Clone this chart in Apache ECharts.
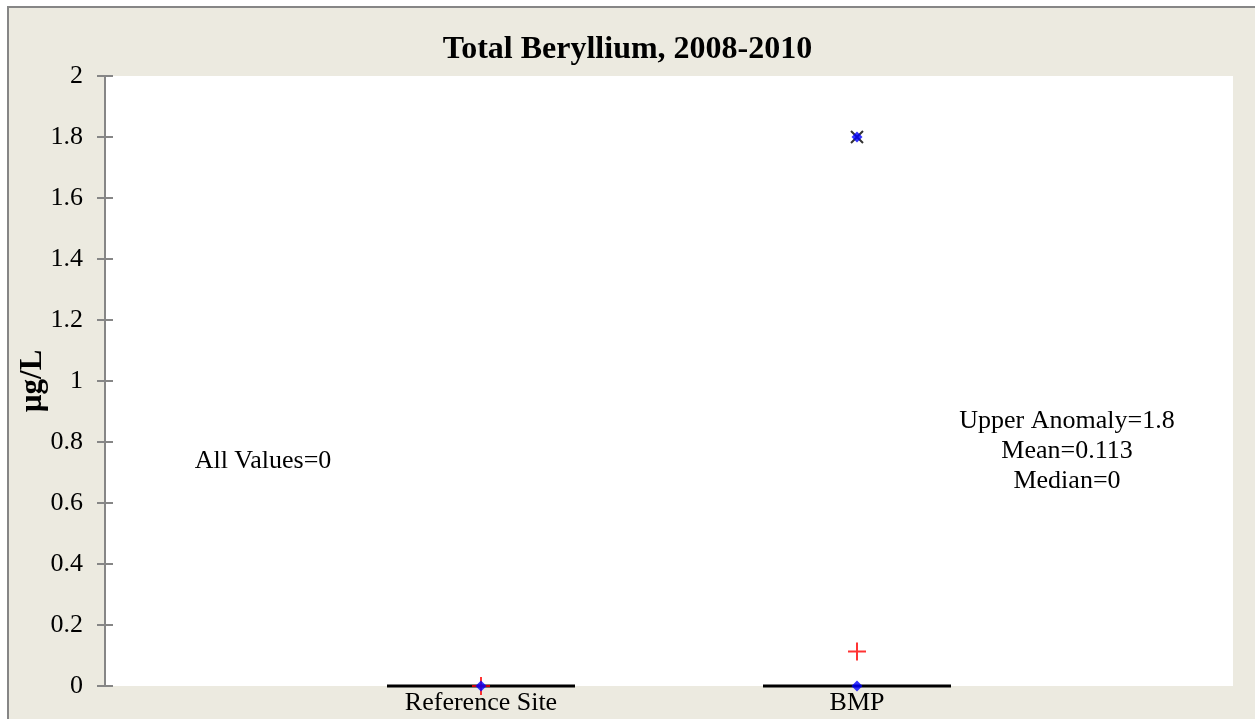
<!DOCTYPE html>
<html><head><meta charset="utf-8">
<script src="https://cdn.jsdelivr.net/npm/echarts@6/dist/echarts.min.js"></script>
<style>html,body{margin:0;padding:0;background:#fff}#c{width:1255px;height:719px}</style>
</head><body><div id="c"></div>
<script>
const categories = ['', 'Reference Site', 'BMP', ''];
const yTicks = [0, 0.2, 0.4, 0.6, 0.8, 1, 1.2, 1.4, 1.6, 1.8, 2];
const dataPoints = [['Reference Site', 0], ['BMP', 0], ['BMP', 1.8]];
const meanValues = [['Reference Site', 0], ['BMP', 0.113]];
const medianValues = [['Reference Site', 0], ['BMP', 0]];
const anomalies = [['BMP', 1.8]];
const annotations = [
  {cat: 'Reference Site', y: 0.738, text: 'All Values=0', dx: -218},
  {cat: 'BMP', y: 0.77, text: 'Upper Anomaly=1.8\nMean=0.113\nMedian=0', dx: 210}
];

const chart = echarts.init(document.getElementById('c'), null, {renderer: 'canvas'});
const font = '"Liberation Serif", "Times New Roman", serif';
const axisBase = {
  type: 'value', min: 0, max: 2, interval: 0.2, position: 'left',
  splitLine: {show: false},
  axisLine: {show: true, lineStyle: {color: '#868686', width: 2}}
};
chart.setOption({
  backgroundColor: '#fff',
  animation: false,
  graphic: [{
    type: 'rect', z: -10, silent: true,
    shape: {x: 8, y: 7, width: 1260, height: 730},
    style: {fill: '#ECEAE0', stroke: '#868686', lineWidth: 2}
  }],
  title: {
    text: 'Total Beryllium, 2008-2010', left: 'center', top: 29,
    textStyle: {fontFamily: font, fontSize: 32, fontWeight: 'bold', color: '#000'}
  },
  grid: {left: 105, right: 22, top: 76, bottom: 33, show: true, backgroundColor: '#fff', borderWidth: 0},
  xAxis: {
    type: 'category', data: categories, boundaryGap: false,
    axisLine: {show: false}, axisTick: {show: false}, splitLine: {show: false},
    axisLabel: {fontFamily: font, fontSize: 26, color: '#000', margin: 4, interval: 0}
  },
  yAxis: [
    Object.assign({}, axisBase, {
      name: 'µg/L', nameLocation: 'middle', nameGap: 57, nameRotate: 90, nameMoveOverlap: false,
      nameTextStyle: {fontFamily: font, fontSize: 31, fontWeight: 'bold', color: '#000'},
      axisTick: {show: true, length: 8, lineStyle: {color: '#868686', width: 2}},
      axisLabel: {fontFamily: font, fontSize: 26, color: '#000', margin: 22,
        formatter: v => yTicks.includes(+v.toFixed(1)) ? String(+v.toFixed(1)) : ''}
    }),
    Object.assign({}, axisBase, {
      axisTick: {show: true, inside: true, length: 8, lineStyle: {color: '#868686', width: 2}},
      axisLabel: {show: false}
    })
  ],
  series: [
    {
      type: 'custom', name: 'Median', z: 2,
      data: medianValues,
      renderItem: (params, api) => {
        const p = api.coord([api.value(0), api.value(1)]);
        const w = api.size([1, 0])[0] * 0.25;
        return {type: 'line', shape: {x1: p[0] - w, y1: p[1], x2: p[0] + w, y2: p[1]},
          style: {stroke: '#000', lineWidth: 3}};
      }
    },
    {
      type: 'scatter', name: 'Anomaly', symbol: 'path://M0,0L10,10M10,0L0,10', symbolSize: 12, z: 3,
      itemStyle: {color: 'none', borderColor: '#000', borderWidth: 2},
      data: anomalies
    },
    {
      type: 'scatter', name: 'Mean', symbol: 'path://M5,0L5,10M0,5L10,5', symbolSize: 18, z: 4,
      itemStyle: {color: 'none', borderColor: '#ff0000', borderWidth: 2},
      data: meanValues
    },
    {
      type: 'scatter', name: 'Data', symbol: 'diamond', symbolSize: 11, z: 5,
      itemStyle: {color: '#0000ff'},
      data: dataPoints
    },
    {
      type: 'custom', name: 'Notes', z: 6,
      data: annotations.map(a => [a.cat, a.y, a.dx, a.text]),
      renderItem: (params, api) => {
        const a = annotations[params.dataIndex];
        const p = api.coord([a.cat, a.y]);
        return {type: 'text', style: {x: p[0] + a.dx, y: p[1], text: a.text, align: 'center', verticalAlign: 'middle',
          font: '26px ' + font, fill: '#000', lineHeight: 30}};
      }
    }
  ]
});
</script></body></html>
